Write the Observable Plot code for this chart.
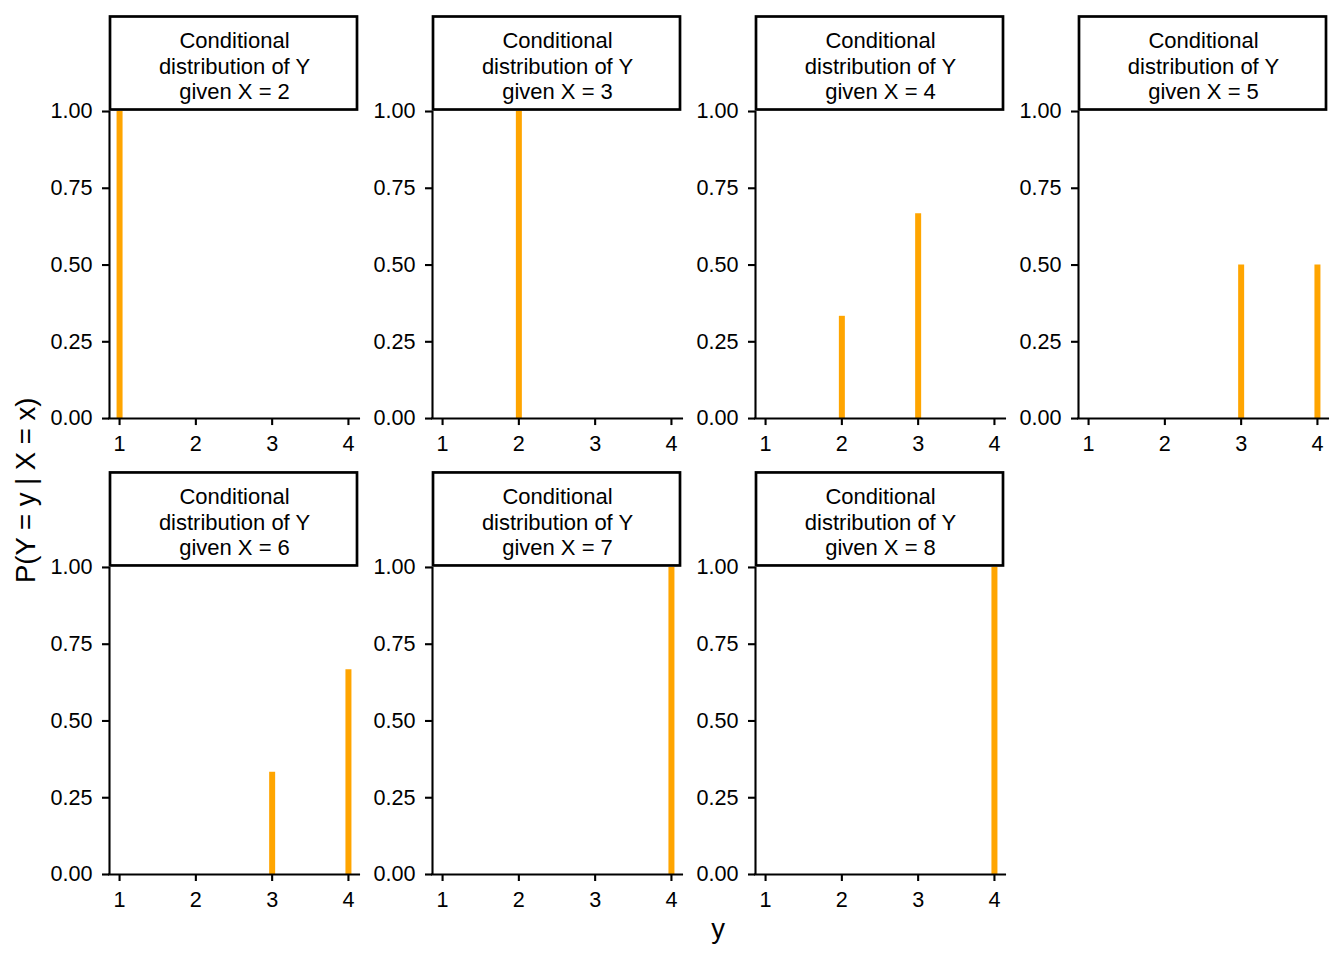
<!DOCTYPE html>
<html>
<head>
<meta charset="utf-8">
<script src="https://cdn.jsdelivr.net/npm/d3@7"></script>
<script src="https://cdn.jsdelivr.net/npm/@observablehq/plot@0.6"></script>
<style>
  html, body { margin: 0; padding: 0; background: #ffffff; }
  #chart { width: 1344px; height: 960px; }
</style>
</head>
<body>
<div id="chart"></div>
<script>
// ---- data ----
const conditionX = [2, 3, 4, 5, 6, 7, 8];            // facet: given X = x
const barX = [2, 3, 4, 4, 5, 5, 6, 6, 7, 8];          // which facet each bar belongs to
const barY = [1, 2, 2, 3, 3, 4, 3, 4, 4, 4];          // y value
const barP = [1, 1, 0.333, 0.667, 0.5, 0.5, 0.333, 0.667, 1, 1]; // P(Y = y | X = x)
const yTicks = [1, 2, 3, 4];
const pTicks = [0, 0.25, 0.5, 0.75, 1];
const xTitle = "y";
const yTitle = "P(Y = y | X = x)";
const stripText = x => `Conditional\ndistribution of Y\ngiven X = ${x}`;

// ---- layout helpers ----
const NCOL = 4;
const col = x => (x - 2) % NCOL;
const row = x => Math.floor((x - 2) / NCOL);
const bars = barX.map((x, i) => ({given: x, y: barY[i], p: barP[i]}));

const xDomain = [0.868, 4.145];
const yTop = 1.3127;             // room for the strip above each panel
const FONT = "'Liberation Sans', Arial, Helvetica, sans-serif";
const ORANGE = "#FFA500";
const LW = 2.1;

const chart = Plot.plot({
  width: 1344,
  height: 960,
  marginLeft: 109,
  marginRight: 16,
  marginTop: 15,
  marginBottom: 86,
  style: {fontFamily: FONT, fontSize: "21.6px", color: "#000", background: "#fff"},
  x: {domain: xDomain},
  y: {domain: [0, yTop]},
  fx: {domain: [0, 1, 2, 3], paddingInner: 0.226, paddingOuter: 0, round: false, axis: null},
  fy: {domain: [0, 1], paddingInner: 0.116, paddingOuter: 0, round: false, axis: null},
  marks: [
    // bars
    Plot.ruleX(bars, {
      fx: d => col(d.given), fy: d => row(d.given),
      x: "y", y1: 0, y2: "p", stroke: ORANGE, strokeWidth: 6
    }),
    // axis lines
    Plot.ruleX(conditionX, {
      fx: d => col(d), fy: d => row(d),
      x: () => xDomain[0], y1: () => 0, y2: () => 1, stroke: "#000", strokeWidth: LW
    }),
    Plot.ruleY(conditionX, {
      fx: d => col(d), fy: d => row(d),
      y: () => 0, x1: () => xDomain[0], x2: () => xDomain[1], stroke: "#000", strokeWidth: LW,
      strokeLinecap: "square"
    }),
    // axes with ticks on every panel
    Plot.axisX(yTicks, {
      facetAnchor: null, tickSize: 7, tickPadding: 10, strokeWidth: LW,
      fontSize: 21.6, label: null, tickFormat: d3.format("d")
    }),
    Plot.axisY(pTicks, {
      facetAnchor: null, tickSize: 7, tickPadding: 10, strokeWidth: LW,
      fontSize: 21.6, label: null, tickFormat: d3.format(".2f")
    }),
    // strip boxes
    Plot.rect(conditionX, {
      fx: d => col(d), fy: d => row(d),
      x1: () => xDomain[0], x2: () => xDomain[1], y1: () => 1, y2: () => yTop,
      fill: "none", stroke: "#000", strokeWidth: 2.7,
      insetTop: 1.5, insetBottom: 1.5, insetLeft: 1, insetRight: 2
    }),
    Plot.text(conditionX, {
      fx: d => col(d), fy: d => row(d),
      x: () => (xDomain[0] + xDomain[1]) / 2, y: () => (1 + yTop) / 2,
      text: d => stripText(d), lineHeight: 1.16, fontSize: 22, fill: "#000", dy: 2
    })
  ]
});

// global axis titles (one per chart, spanning all panels)
const svg = d3.select(chart);
svg.append("text")
  .attr("x", 718).attr("y", 929).attr("dy", "0.32em")
  .attr("text-anchor", "middle")
  .attr("font-family", FONT).attr("font-size", 27.5).attr("fill", "#000")
  .text(xTitle);
svg.append("text")
  .attr("transform", "translate(26.2,490.3) rotate(-90)")
  .attr("dy", "0.32em")
  .attr("text-anchor", "middle")
  .attr("font-family", FONT).attr("font-size", 27.5).attr("fill", "#000")
  .text(yTitle);

document.getElementById("chart").appendChild(chart);
</script>
</body>
</html>
